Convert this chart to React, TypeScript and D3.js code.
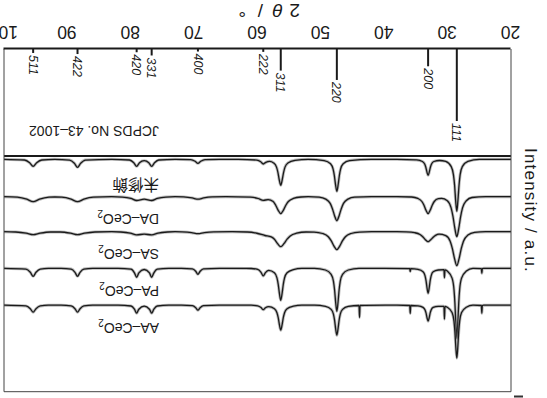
import React, { useEffect, useRef } from "react";
import * as d3 from "d3";

// 2theta axis ticks
const xTicks = [20, 30, 40, 50, 60, 70, 80, 90, 100];

// JCPDS No. 43-1002 reference lines
const refPositions = [28.55, 33.08, 47.48, 56.33, 59.09, 69.4, 76.7, 79.07, 88.4, 95.4];
const refHkl = ["111", "200", "220", "311", "222", "400", "331", "420", "422", "511"];
const refIntensity = [100, 24, 43, 30, 4, 3.5, 9, 4.5, 7, 5.5];

// samples, bottom to top
const sampleNames = ["未修飾", "DA–CeO", "SA–CeO", "PA–CeO", "AA–CeO"];
const sampleSubscripts = ["", "2", "2", "2", "2"];
const sampleOffsets = [3.3, 40.7, 75.7, 112.3, 149.2];

// [2theta, intensity a.u.]
const unmodified = [
  [20, 0], [25, 0], [26.8, 2.1], [27.68, 7.3], [28.03, 15.6], [28.2, 26], [28.38, 41.6], [28.55, 52], [28.73, 41.6],
  [28.9, 26], [29.08, 15.6], [29.43, 7.3], [30.3, 2.1], [31.28, 1.2], [32.18, 2.2], [32.54, 4.8], [32.72, 8],
  [32.9, 12.8], [33.08, 16], [33.26, 12.8], [33.44, 8], [33.62, 4.8], [33.98, 2.2], [34.88, 0.6], [38, 0], [42, 0],
  [45.48, 1.3], [46.48, 4.5], [46.88, 9.6], [47.08, 16], [47.28, 25.6], [47.48, 32], [47.68, 25.6], [47.88, 16],
  [48.08, 9.6], [48.48, 4.5], [49.48, 1.3], [52, 0], [54.08, 1], [55.2, 3.6], [55.66, 7.8], [55.88, 13],
  [56.11, 20.8], [56.33, 26], [56.56, 20.8], [56.78, 13], [57.0, 7.8], [57.46, 3.6], [58.09, 2], [58.69, 3],
  [59.09, 4.7], [59.49, 2.5], [60.09, 0.8], [63, 0], [66, 0], [68.28, 0.4], [68.95, 2], [69.4, 4], [69.85, 2],
  [70.53, 0.4], [73, 0], [75.58, 0.7], [76.25, 3.5], [76.7, 7], [77.15, 3.5], [77.88, 1.4], [78.62, 3.5],
  [79.07, 7], [79.52, 3.5], [80.2, 0.7], [83, 0], [87.15, 0.8], [87.9, 4], [88.4, 8], [88.9, 4], [89.65, 0.8],
  [92, 0], [94.03, 0.7], [94.85, 3.5], [95.4, 7], [95.95, 3.5], [96.78, 0.7], [100, 0],
];
const daCeO2 = [
  [20, 0], [24, 0], [26.15, 0.8], [27.05, 4], [27.65, 11.2], [27.95, 20], [28.25, 32], [28.55, 40], [28.85, 32],
  [29.15, 20], [29.45, 11.2], [30.05, 4], [30.95, 1.7], [31.46, 2.0], [32.11, 4.8], [32.43, 8.5], [32.76, 13.6],
  [33.08, 17], [33.41, 13.6], [33.73, 8.5], [34.06, 4.8], [34.71, 1.7], [35.68, 0.3], [38, 0], [42, 0],
  [44.68, 0.5], [45.73, 2.4], [46.43, 6.7], [46.78, 12], [47.13, 19.2], [47.48, 24], [47.83, 19.2], [48.18, 12],
  [48.53, 6.7], [49.23, 2.4], [50.28, 0.5], [52, 0], [53.13, 0.3], [54.33, 1.7], [55.13, 4.8], [55.53, 8.5],
  [55.93, 13.6], [56.33, 17], [56.73, 13.6], [57.13, 8.5], [57.53, 4.8], [58.33, 2.9], [59.09, 3.7], [59.89, 1.8],
  [61.1, 0.4], [65, 0], [67.15, 0.25], [68.5, 1.25], [69.4, 2.5], [70.3, 1.25], [71.65, 0.25], [73, 0],
  [74.45, 0.35], [75.8, 1.75], [76.7, 3.8], [77.88, 2.5], [79.07, 3.8], [79.97, 1.75], [81.32, 0.35], [83, 0],
  [85.9, 0.5], [87.4, 2.5], [88.4, 5], [89.4, 2.5], [90.9, 0.5], [92, 0.3], [92.9, 0.5], [94.4, 2.5], [95.4, 5],
  [96.4, 2.5], [97.9, 0.5], [100, 0],
];
const saCeO2 = [
  [20, 0], [24, 0], [25.75, 0.7], [26.8, 3.4], [27.5, 9.5], [27.85, 17], [28.2, 27.2], [28.55, 34], [28.9, 27.2],
  [29.25, 17], [29.6, 9.5], [30.3, 3.9], [31.35, 2.5], [31.9, 3.7], [32.23, 5.3], [32.66, 8], [33.08, 10],
  [33.51, 8], [33.93, 5], [34.36, 2.8], [35.2, 1.0], [36.5, 0.2], [38, 0], [42, 0], [43.88, 0.4], [45.23, 1.8],
  [46.13, 5], [46.58, 9], [47.03, 14.4], [47.48, 18], [47.93, 14.4], [48.38, 9], [48.83, 5], [49.73, 1.8],
  [51.08, 0.4], [52.33, 0.3], [53.83, 1.5], [54.83, 4.2], [55.33, 7.5], [55.83, 12], [56.33, 15], [56.83, 12],
  [57.33, 7.5], [57.83, 5.2], [58.83, 3.8], [60.1, 1.55], [61.6, 0.3], [64, 0], [66.9, 0.2], [68.4, 1], [69.4, 2],
  [70.4, 1], [71.9, 0.2], [73, 0], [74.2, 0.3], [75.7, 1.5], [76.7, 3.2], [77.88, 2.4], [79.07, 3.2], [80.07, 1.5],
  [81.57, 0.3], [83, 0], [85.65, 0.3], [87.3, 1.5], [88.4, 3], [89.5, 1.5], [91.15, 0.3], [92.65, 0.3],
  [94.3, 1.5], [95.4, 3], [96.5, 1.5], [98.15, 0.3], [100, 0],
];
const paCeO2 = [
  [20, 0], [24.3, 0], [24.52, 0.3], [24.6, 5], [24.68, 0.3], [26, 0], [27.05, 2.8], [27.8, 9.8], [28.1, 21],
  [28.25, 35], [28.4, 56], [28.55, 70], [28.7, 56], [28.85, 35], [29.0, 21], [29.3, 9.8], [30.05, 2.8],
  [30.42, 1.5], [30.5, 9.5], [30.58, 1.4], [31.48, 1.7], [32.28, 3.5], [32.6, 7.5], [32.76, 12.5], [32.92, 20],
  [33.08, 25], [33.24, 20], [33.4, 12.5], [33.56, 7.5], [33.88, 3.5], [34.68, 1.0], [35.82, 0.3], [35.9, 3.3],
  [35.98, 0.3], [40, 0], [44, 0], [45.68, 1.7], [46.58, 6], [46.94, 12.9], [47.12, 21.5], [47.3, 34.4],
  [47.48, 43], [47.66, 34.4], [47.84, 21.5], [48.02, 12.9], [48.38, 6], [49.28, 1.7], [51, 0], [53, 0],
  [54.33, 1.3], [55.33, 4.5], [55.73, 9.6], [55.93, 16], [56.13, 25.6], [56.33, 32], [56.53, 25.6], [56.73, 16],
  [56.93, 9.6], [57.33, 4.5], [58.22, 2.1], [58.74, 4.3], [59.09, 7.6], [59.44, 4], [59.97, 1.1], [61, 0.2],
  [66, 0], [68.52, 0.6], [69.05, 3], [69.4, 6], [69.75, 3], [70.28, 0.6], [72, 0], [74, 0], [75.82, 0.9],
  [76.35, 4.5], [76.7, 9], [77.05, 4.5], [77.88, 1.2], [78.72, 4.5], [79.07, 9], [79.42, 4.5], [79.95, 0.9],
  [82, 0], [86, 0], [87.4, 0.8], [88.0, 4], [88.4, 8], [88.8, 4], [89.4, 0.8], [91, 0], [93, 0], [94.28, 0.8],
  [94.95, 4], [95.4, 8], [95.85, 4], [96.53, 0.8], [100, 0],
];
const aaCeO2 = [
  [20, 0], [24.3, 0], [24.52, 0.3], [24.6, 8], [24.68, 0.3], [26, 0], [27.05, 2.1], [27.8, 7.4], [28.1, 15.9],
  [28.25, 26.5], [28.4, 42.4], [28.55, 53], [28.7, 42.4], [28.85, 26.5], [29.0, 15.9], [29.3, 7.4], [30.05, 2.1],
  [30.42, 1.2], [30.5, 14], [30.58, 1.1], [31.48, 1.1], [32.28, 2.2], [32.6, 4.8], [32.76, 8], [32.92, 12.8],
  [33.08, 16], [33.24, 12.8], [33.4, 8], [33.56, 4.8], [33.88, 2.2], [34.68, 0.6], [35.82, 0.3], [35.9, 8.3],
  [35.98, 0.3], [38, 0], [43, 0.2], [43.82, 0.3], [43.9, 12.3], [43.98, 0.3], [45.68, 1.2], [46.58, 4.2],
  [46.94, 9], [47.12, 15], [47.3, 24], [47.48, 30], [47.66, 24], [47.84, 15], [48.02, 9], [48.38, 4.2],
  [49.28, 1.2], [51, 0], [53, 0], [54.33, 1], [55.33, 3.5], [55.73, 7.5], [55.93, 12.5], [56.13, 20], [56.33, 25],
  [56.53, 20], [56.73, 12.5], [56.93, 7.5], [57.33, 3.5], [58.22, 1.5], [58.74, 2.6], [59.09, 4.5], [59.44, 2.4],
  [59.97, 0.7], [61, 0], [66, 0], [68.52, 0.5], [69.05, 2.5], [69.4, 5], [69.75, 2.5], [70.28, 0.5], [72, 0],
  [74, 0], [75.82, 0.8], [76.35, 4], [76.7, 8], [77.05, 4], [77.88, 1], [78.72, 4], [79.07, 8], [79.42, 4],
  [79.95, 0.8], [82, 0], [86, 0], [87.4, 0.7], [88.0, 3.5], [88.4, 7], [88.8, 3.5], [89.4, 0.7], [91, 0], [93, 0],
  [94.28, 0.7], [94.95, 3.5], [95.4, 7], [95.85, 3.5], [96.53, 0.7], [100, 0],
];
const traces = [unmodified, daCeO2, saCeO2, paCeO2, aaCeO2];

const font = "'Liberation Sans', Arial, sans-serif";
const ink = "#1a1a1a";

function XrdChart() {
  const ref = useRef<SVGSVGElement>(null);

  useEffect(() => {
    const W = 547, H = 398;
    const left = 36, right = 543, top = 6.3, split = 242, bottom = 349;

    const svg = d3.select(ref.current);
    svg.selectAll("*").remove();

    // the figure is printed upside down
    const g = svg.append("g").attr("transform", `rotate(180 ${W / 2} ${H / 2})`);

    const x = d3.scaleLinear().domain([20, 100]).range([left, right]);
    const yTrace = d3.scaleLinear().domain([0, split - top]).range([split, top]);
    const yRef = d3.scaleLinear().domain([0, 100]).range([bottom, bottom - 72]);

    svg.append("defs").append("clipPath").attr("id", "upper")
      .append("rect").attr("x", left).attr("y", top).attr("width", right - left).attr("height", split - top);

    // traces
    const line = d3.line<number[]>().curve(d3.curveMonotoneX);
    const tg = g.append("g").attr("clip-path", "url(#upper)");
    traces.forEach((t, i) => {
      line.x(d => x(d[0])).y(d => yTrace(sampleOffsets[i] + d[1]));
      tg.append("path").attr("d", line(t)).attr("fill", "none")
        .attr("stroke", "#777").attr("stroke-width", 3).attr("stroke-opacity", 0.5);
      tg.append("path").attr("d", line(t)).attr("fill", "none")
        .attr("stroke", ink).attr("stroke-width", 1.3);
    });

    // sample labels
    sampleNames.forEach((name, i) => {
      const t = g.append("text")
        .attr("x", 388)
        .attr("y", yTrace(sampleOffsets[i]) - (i === 0 ? 19.5 : 17.5))
        .attr("fill", ink)
        .attr("font-family", i === 0 ? "'Noto Sans CJK JP', sans-serif" : font)
        .attr("font-size", i === 0 ? 15.5 : 14)
        .text(name);
      if (sampleSubscripts[i]) {
        t.append("tspan").attr("font-size", 10).attr("dy", 4).text(sampleSubscripts[i]);
      }
    });

    // reference sticks
    g.selectAll("line.stick").data(refPositions).enter().append("line")
      .attr("class", "stick")
      .attr("x1", d => x(d)).attr("x2", d => x(d))
      .attr("y1", bottom).attr("y2", (d, i) => yRef(refIntensity[i]))
      .attr("stroke", ink).attr("stroke-width", 2);

    g.selectAll("text.hkl").data(refPositions).enter().append("text")
      .attr("class", "hkl")
      .attr("transform", (d, i) => `translate(${x(d)},${yRef(refIntensity[i]) - 2}) rotate(-90)`)
      .attr("dy", "0.35em")
      .attr("font-family", font).attr("font-size", 12.5).attr("font-style", "italic")
      .attr("fill", ink)
      .text((d, i) => refHkl[i]);

    g.append("text").attr("x", 388).attr("y", 272)
      .attr("font-family", font).attr("font-size", 14).attr("fill", ink)
      .text("JCPDS No. 43–1002");

    // frame
    g.append("line").attr("x1", left).attr("x2", right).attr("y1", top).attr("y2", top)
      .attr("stroke", "#444").attr("stroke-width", 1);
    g.append("line").attr("x1", left).attr("x2", right).attr("y1", split).attr("y2", split)
      .attr("stroke", ink).attr("stroke-width", 2.2);
    [left, right].forEach(v => {
      g.append("line").attr("x1", v).attr("x2", v).attr("y1", top).attr("y2", bottom)
        .attr("stroke", "#444").attr("stroke-width", 1);
    });

    // x axis
    const axis = g.append("g").attr("transform", `translate(0,${bottom})`)
      .call(d3.axisBottom(x).tickValues(xTicks).tickSize(0).tickSizeOuter(0).tickPadding(10.5));
    axis.select(".domain").attr("stroke", ink).attr("stroke-width", 2);
    axis.selectAll("text").attr("font-size", 17.5).attr("font-family", font).attr("fill", ink);

    // axis titles
    const title = g.append("text").attr("y", 394).attr("font-family", font)
      .attr("font-size", 19).attr("fill", ink);
    title.append("tspan").attr("x", 247).text("2");
    title.append("tspan").attr("x", 264).attr("font-style", "italic").text("θ");
    title.append("tspan").attr("x", 284).text("/");
    title.append("tspan").attr("x", 301).text("°");

    g.append("text")
      .attr("transform", "translate(22.5,187.5) rotate(-90)")
      .attr("text-anchor", "middle")
      .attr("font-family", font).attr("font-size", 17).attr("letter-spacing", 1.2)
      .attr("fill", ink)
      .text("Intensity / a.u.");

    // cut-off mark at the page edge
    g.append("rect").attr("x", 24).attr("y", 0.5).attr("width", 9).attr("height", 2).attr("fill", "#333");
  }, []);

  return (
    <svg ref={ref} width={547} height={398}
      style={{ position: "absolute", left: 0, top: 0, background: "#fff" }} />
  );
}

export default function App() {
  return <XrdChart />;
}
